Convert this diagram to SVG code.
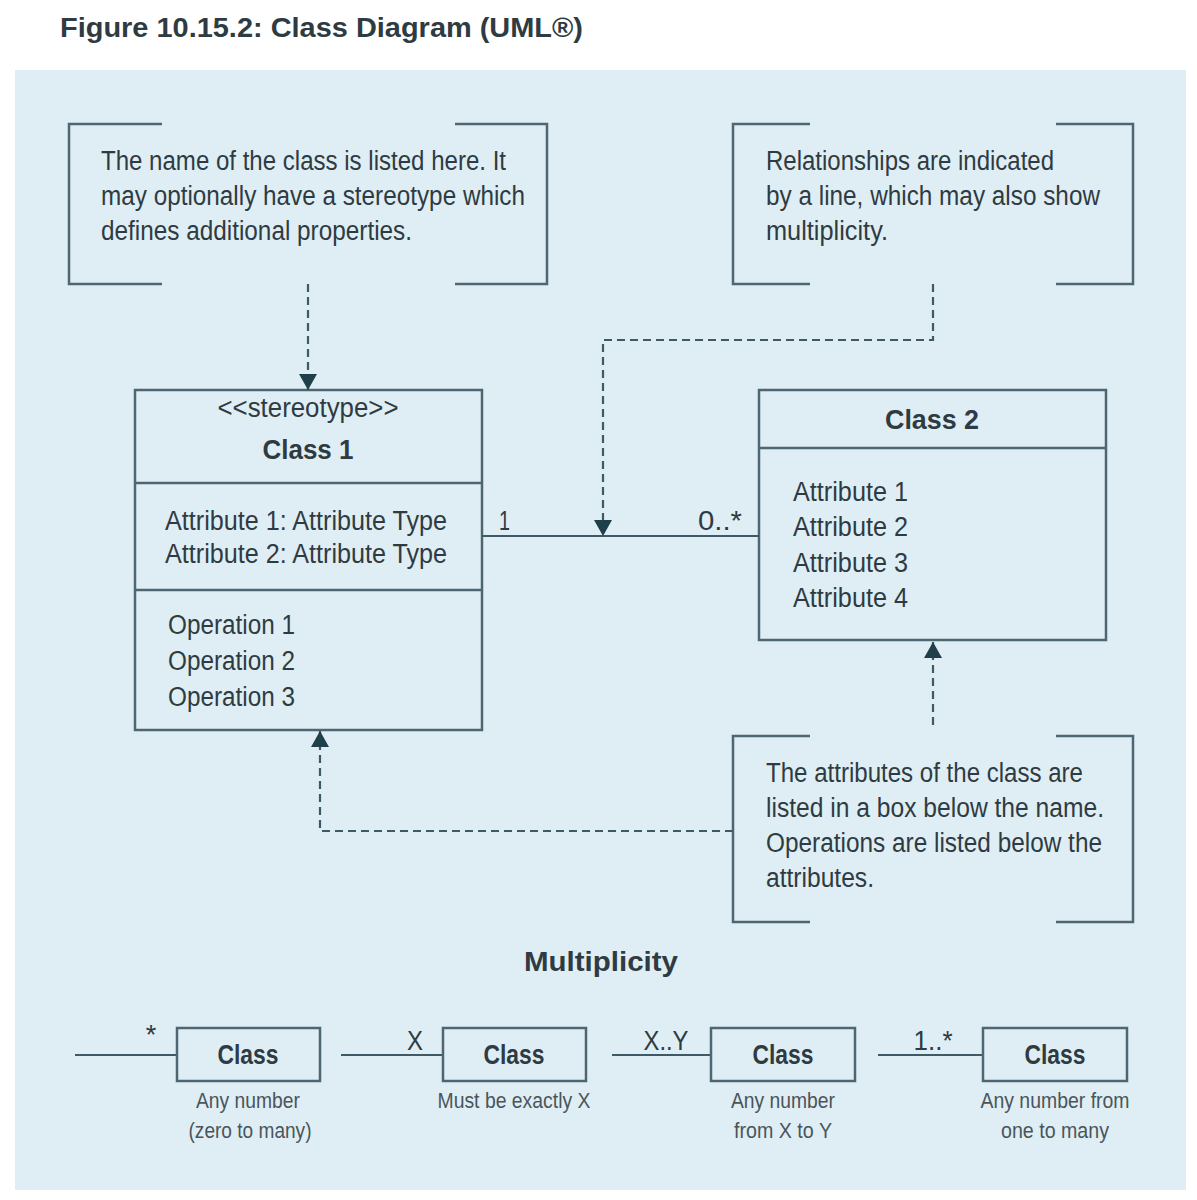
<svg xmlns="http://www.w3.org/2000/svg" width="1197" height="1200" viewBox="0 0 1197 1200">
<defs>
<style>
.t{font-family:"Liberation Sans",Arial,sans-serif;fill:#2f3b42;font-size:27px}
.b{font-weight:bold}
.cap{font-size:22px;fill:#4a555b}
.box{fill:none;stroke:#4c6672;stroke-width:2.5}
.br{fill:none;stroke:#4c6672;stroke-width:2.5}
.dash{fill:none;stroke:#3e5a66;stroke-width:2.2;stroke-dasharray:8,5}
.sol{fill:none;stroke:#3e5a66;stroke-width:2.2}
</style>
<marker id="ah" viewBox="0 0 16 18" refX="16" refY="9" markerWidth="16" markerHeight="18" markerUnits="userSpaceOnUse" orient="auto">
<path d="M0,0 L16,9 L0,18 Z" fill="#1f3f4a"/>
</marker>
</defs>
<rect width="1197" height="1200" fill="#ffffff"/>
<rect x="15" y="70" width="1171" height="1120" fill="#dfeef4"/>
<text class="t b" x="60" y="37" font-size="32" fill="#3f4b52" textLength="523" lengthAdjust="spacingAndGlyphs">Figure 10.15.2: Class Diagram (UML®)</text>

<g id="note-name">
<path class="br" d="M162,124 H69 V284 H162 M455,124 H547 V284 H455"/>
<text class="t" x="101" y="170" textLength="405" lengthAdjust="spacingAndGlyphs">The name of the class is listed here. It</text>
<text class="t" x="101" y="205" textLength="424" lengthAdjust="spacingAndGlyphs">may optionally have a stereotype which</text>
<text class="t" x="101" y="240" textLength="311" lengthAdjust="spacingAndGlyphs">defines additional properties.</text>
</g>

<g id="note-rel">
<path class="br" d="M810,124 H733 V284 H810 M1056,124 H1133 V284 H1056"/>
<text class="t" x="766" y="170" textLength="288" lengthAdjust="spacingAndGlyphs">Relationships are indicated</text>
<text class="t" x="766" y="205" textLength="334" lengthAdjust="spacingAndGlyphs">by a line, which may also show</text>
<text class="t" x="766" y="240" textLength="122" lengthAdjust="spacingAndGlyphs">multiplicity.</text>
</g>

<g id="note-attr">
<path class="br" d="M810,736 H733 V922 H810 M1056,736 H1133 V922 H1056"/>
<text class="t" x="766" y="782" textLength="317" lengthAdjust="spacingAndGlyphs">The attributes of the class are</text>
<text class="t" x="766" y="817" textLength="338" lengthAdjust="spacingAndGlyphs">listed in a box below the name.</text>
<text class="t" x="766" y="852" textLength="336" lengthAdjust="spacingAndGlyphs">Operations are listed below the</text>
<text class="t" x="766" y="887" textLength="108" lengthAdjust="spacingAndGlyphs">attributes.</text>
</g>

<g id="class1">
<rect class="box" x="135" y="390" width="347" height="340"/>
<line class="box" x1="135" y1="483" x2="482" y2="483"/>
<line class="box" x1="135" y1="590" x2="482" y2="590"/>
<text class="t" x="308" y="417" font-size="23" text-anchor="middle" fill="#4a555b" textLength="181" lengthAdjust="spacingAndGlyphs">&lt;&lt;stereotype&gt;&gt;</text>
<text class="t b" x="308" y="459" font-size="32" text-anchor="middle" textLength="91" lengthAdjust="spacingAndGlyphs">Class 1</text>
<text class="t" x="165" y="530" textLength="282" lengthAdjust="spacingAndGlyphs">Attribute 1: Attribute Type</text>
<text class="t" x="165" y="563" textLength="282" lengthAdjust="spacingAndGlyphs">Attribute 2: Attribute Type</text>
<text class="t" x="168" y="634" textLength="127" lengthAdjust="spacingAndGlyphs">Operation 1</text>
<text class="t" x="168" y="670" textLength="127" lengthAdjust="spacingAndGlyphs">Operation 2</text>
<text class="t" x="168" y="706" textLength="127" lengthAdjust="spacingAndGlyphs">Operation 3</text>
</g>

<g id="class2">
<rect class="box" x="759" y="390" width="347" height="250"/>
<line class="box" x1="759" y1="448" x2="1106" y2="448"/>
<text class="t b" x="932" y="429" font-size="32" text-anchor="middle" textLength="94" lengthAdjust="spacingAndGlyphs">Class 2</text>
<text class="t" x="793" y="501" textLength="115" lengthAdjust="spacingAndGlyphs">Attribute 1</text>
<text class="t" x="793" y="536" textLength="115" lengthAdjust="spacingAndGlyphs">Attribute 2</text>
<text class="t" x="793" y="572" textLength="115" lengthAdjust="spacingAndGlyphs">Attribute 3</text>
<text class="t" x="793" y="607" textLength="115" lengthAdjust="spacingAndGlyphs">Attribute 4</text>
</g>

<g id="connectors">
<line class="sol" x1="482" y1="536" x2="759" y2="536"/>
<text class="t" x="499" y="530" textLength="11" lengthAdjust="spacingAndGlyphs">1</text>
<text class="t" x="698" y="530" textLength="44" lengthAdjust="spacingAndGlyphs">0..*</text>
<path class="dash" d="M308,284 V390" marker-end="url(#ah)"/>
<path class="dash" d="M933,284 V340 H603 V536" marker-end="url(#ah)"/>
<path class="dash" d="M933,725 V642" marker-end="url(#ah)"/>
<path class="dash" d="M733,831 H320 V731" marker-end="url(#ah)"/>
</g>

<text class="t b" x="601" y="971" font-size="31" text-anchor="middle" textLength="154" lengthAdjust="spacingAndGlyphs">Multiplicity</text>

<g id="mult-any">
<line class="sol" x1="75" y1="1055" x2="177" y2="1055"/>
<rect class="box" x="177" y="1028" width="143" height="53"/>
<text class="t b" x="248" y="1064" font-size="28" text-anchor="middle" textLength="61" lengthAdjust="spacingAndGlyphs">Class</text>
<text class="t" x="151" y="1044" font-size="20" text-anchor="middle">*</text>
<text class="t cap" x="248" y="1108" text-anchor="middle" textLength="104" lengthAdjust="spacingAndGlyphs">Any number</text>
<text class="t cap" x="250" y="1138" text-anchor="middle" textLength="123" lengthAdjust="spacingAndGlyphs">(zero to many)</text>
</g>

<g id="mult-x">
<line class="sol" x1="341" y1="1055" x2="443" y2="1055"/>
<rect class="box" x="443" y="1028" width="143" height="53"/>
<text class="t b" x="514" y="1064" font-size="28" text-anchor="middle" textLength="61" lengthAdjust="spacingAndGlyphs">Class</text>
<text class="t" x="415" y="1050" font-size="24" text-anchor="middle" textLength="16" lengthAdjust="spacingAndGlyphs">X</text>
<text class="t cap" x="514" y="1108" text-anchor="middle" textLength="153" lengthAdjust="spacingAndGlyphs">Must be exactly X</text>
</g>

<g id="mult-xy">
<line class="sol" x1="612" y1="1055" x2="711" y2="1055"/>
<rect class="box" x="711" y="1028" width="144" height="53"/>
<text class="t b" x="783" y="1064" font-size="28" text-anchor="middle" textLength="61" lengthAdjust="spacingAndGlyphs">Class</text>
<text class="t" x="666" y="1050" font-size="24" text-anchor="middle" textLength="45" lengthAdjust="spacingAndGlyphs">X..Y</text>
<text class="t cap" x="783" y="1108" text-anchor="middle" textLength="104" lengthAdjust="spacingAndGlyphs">Any number</text>
<text class="t cap" x="783" y="1138" text-anchor="middle" textLength="98" lengthAdjust="spacingAndGlyphs">from X to Y</text>
</g>

<g id="mult-1many">
<line class="sol" x1="878" y1="1055" x2="983" y2="1055"/>
<rect class="box" x="983" y="1028" width="144" height="53"/>
<text class="t b" x="1055" y="1064" font-size="28" text-anchor="middle" textLength="61" lengthAdjust="spacingAndGlyphs">Class</text>
<text class="t" x="933" y="1050" font-size="24" text-anchor="middle" textLength="39" lengthAdjust="spacingAndGlyphs">1..*</text>
<text class="t cap" x="1055" y="1108" text-anchor="middle" textLength="149" lengthAdjust="spacingAndGlyphs">Any number from</text>
<text class="t cap" x="1055" y="1138" text-anchor="middle" textLength="108" lengthAdjust="spacingAndGlyphs">one to many</text>
</g>
</svg>
